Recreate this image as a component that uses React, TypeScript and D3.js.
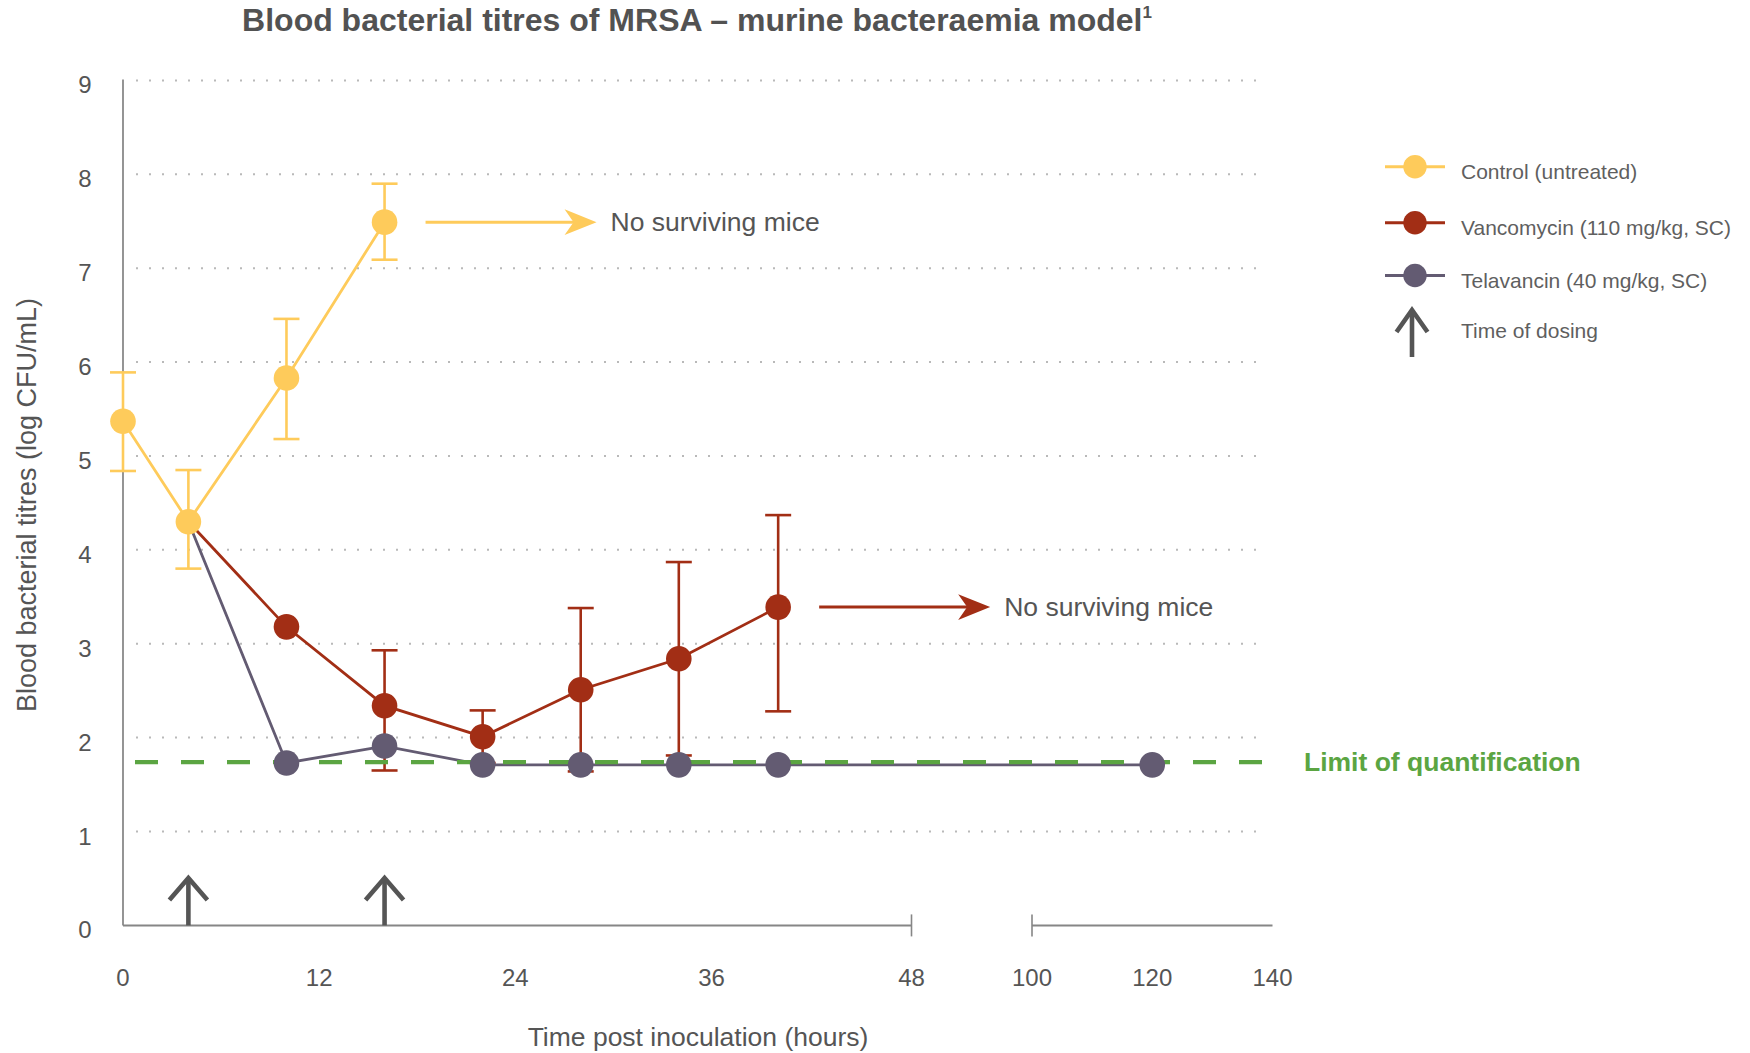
import React from "react";
import * as d3 from "d3";

// ---- Data -------------------------------------------------------------
const controlTime = [0, 4, 10, 16];
const controlMean = [5.37, 4.3, 5.83, 7.49];
const controlLow = [4.84, 3.8, 5.18, 7.09];
const controlHigh = [5.89, 4.85, 6.46, 7.9];

const vancoTime = [4, 10, 16, 22, 28, 34, 40];
const vancoMean = [4.3, 3.18, 2.34, 2.01, 2.51, 2.84, 3.39];
const vancoLow = [null, null, 1.65, 1.73, 1.64, 1.81, 2.28];
const vancoHigh = [null, null, 2.93, 2.29, 3.38, 3.87, 4.37];

const telaTime = [4, 10, 16, 22, 28, 34, 40, 120];
const telaMean = [4.3, 1.73, 1.91, 1.71, 1.71, 1.71, 1.71, 1.71];

const limitOfQuantification = 1.74;
const dosingTimes = [4, 16];

const xTicks = [0, 12, 24, 36, 48, 100, 120, 140];
const yTicks = [0, 1, 2, 3, 4, 5, 6, 7, 8, 9];
const gridValues = [1, 2, 3, 4, 5, 6, 7, 8, 9];
const axisSegments: [number, number][] = [
  [0, 48],
  [100, 140],
];

const seriesNames = [
  "Control (untreated)",
  "Vancomycin (110 mg/kg, SC)",
  "Telavancin (40 mg/kg, SC)",
];
const dosingLabel = "Time of dosing";
const noSurvivorsLabel = "No surviving mice";
const loqLabel = "Limit of quantification";

// ---- Style -----------------------------------------------------------
const C_CONTROL = "#FECB5B";
const C_VANCO = "#A22E15";
const C_TELA = "#635B72";
const C_LOQ = "#5BA542";
const C_TEXT = "#555555";
const C_LEGEND = "#5f5f5f";
const C_AXIS = "#7a7a7a";
const FONT = "'Liberation Sans', Arial, Helvetica, sans-serif";

const W = 1750;
const H = 1053;
const R = 12.8;

// Broken time axis: 0–48 h then 100–140 h
const x = d3
  .scaleLinear()
  .domain([0, 36, 48, 100, 140])
  .range([123, 711.5, 911.5, 1032, 1272.5]);
const y = d3.scaleLinear().domain([0, 9]).range([925.4, 80.4]);

type Pt = [number, number];
const zip = (t: number[], v: number[]): Pt[] => t.map((d, i) => [d, v[i]]);
const line = d3
  .line<Pt>()
  .x((d) => x(d[0]))
  .y((d) => y(d[1]));

function ErrorBars({
  t,
  lo,
  hi,
  color,
}: {
  t: number[];
  lo: (number | null)[];
  hi: (number | null)[];
  color: string;
}) {
  const cap = 13;
  return (
    <g stroke={color} strokeWidth={2.6} fill="none">
      {t.map((tt, i) => {
        const l = lo[i];
        const h = hi[i];
        if (l == null || h == null) return null;
        const cx = x(tt);
        return (
          <g key={i}>
            <line x1={cx} x2={cx} y1={y(l)} y2={y(h)} />
            <line x1={cx - cap} x2={cx + cap} y1={y(h)} y2={y(h)} />
            <line x1={cx - cap} x2={cx + cap} y1={y(l)} y2={y(l)} />
          </g>
        );
      })}
    </g>
  );
}

function Markers({
  pts,
  color,
  skipFirst,
}: {
  pts: Pt[];
  color: string;
  skipFirst?: boolean;
}) {
  return (
    <g fill={color}>
      {pts.map((p, i) =>
        skipFirst && i === 0 ? null : (
          <circle key={i} cx={x(p[0])} cy={y(p[1])} r={R} />
        )
      )}
    </g>
  );
}

function NotchedArrow({
  x1,
  x2,
  yy,
  color,
}: {
  x1: number;
  x2: number;
  yy: number;
  color: string;
}) {
  const len = 32;
  const half = 12.8;
  const notch = 9;
  const head = `M${x2},${yy} L${x2 - len},${yy - half} L${x2 - len + notch},${yy} L${x2 - len},${yy + half} Z`;
  return (
    <g>
      <line x1={x1} x2={x2 - len + notch + 1} y1={yy} y2={yy} stroke={color} strokeWidth={3} />
      <path d={head} fill={color} />
    </g>
  );
}

function DoseArrow({ cx, base, top, width }: { cx: number; base: number; top: number; width: number }) {
  return (
    <g stroke="#555555" strokeWidth={4.6} fill="none" strokeLinejoin="miter">
      <line x1={cx} x2={cx} y1={base} y2={top + 2} />
      <polyline points={`${cx - width},${top + 23} ${cx},${top + 1} ${cx + width},${top + 23}`} />
    </g>
  );
}

export default function App() {
  const control = zip(controlTime, controlMean);
  const vanco = zip(vancoTime, vancoMean);
  const tela = zip(telaTime, telaMean);

  const yLoq = y(limitOfQuantification);
  const ctrlLast = control[control.length - 1];
  const vancoLast = vanco[vanco.length - 1];
  const arrowGap = 41;
  const arrowLen = 171;

  const legendY = [166.7, 222.7, 275.5];
  const legendColors = [C_CONTROL, C_VANCO, C_TELA];

  return (
    <svg
      width={W}
      height={H}
      viewBox={`0 0 ${W} ${H}`}
      style={{ position: "absolute", left: 0, top: 0, background: "#fff" }}
      fontFamily={FONT}
    >
      <rect width={W} height={H} fill="#ffffff" />

      {/* Title */}
      <text x={697} y={31} textAnchor="middle" fontSize={32} fontWeight="bold" fill="#525252">
        Blood bacterial titres of MRSA – murine bacteraemia model
        <tspan fontSize={17} dy={-13}>1</tspan>
      </text>

      {/* Horizontal dotted grid */}
      <g stroke="#b9b9b9" strokeWidth={2} strokeDasharray="2 11">
        {gridValues.map((v) => (
          <line key={v} x1={136} x2={1266} y1={y(v)} y2={y(v)} />
        ))}
      </g>

      {/* Y axis */}
      <line x1={x(0)} x2={x(0)} y1={y(0)} y2={y(9) - 1} stroke={C_AXIS} strokeWidth={1.6} />
      <g fontSize={24} fill={C_TEXT} textAnchor="middle">
        {yTicks.map((v) => (
          <text key={v} x={85} y={y(v) + 13}>
            {v}
          </text>
        ))}
      </g>

      {/* Broken X axis */}
      <g stroke="#868686" strokeWidth={2}>
        {axisSegments.map(([a, b], i) => (
          <line key={i} x1={x(a)} x2={x(b)} y1={y(0)} y2={y(0)} />
        ))}
        <line x1={x(48)} x2={x(48)} y1={y(0) - 11} y2={y(0) + 11} strokeWidth={1.6} />
        <line x1={x(100)} x2={x(100)} y1={y(0) - 11} y2={y(0) + 11} strokeWidth={1.6} />
      </g>
      <g fontSize={24} fill={C_TEXT} textAnchor="middle">
        {xTicks.map((v) => (
          <text key={v} x={x(v)} y={986}>
            {v}
          </text>
        ))}
      </g>

      {/* Axis titles */}
      <text x={698} y={1046} textAnchor="middle" fontSize={26.5} fill={C_TEXT}>
        Time post inoculation (hours)
      </text>
      <text
        transform={`translate(36, 505) rotate(-90)`}
        textAnchor="middle"
        fontSize={27}
        fill={C_TEXT}
      >
        Blood bacterial titres (log CFU/mL)
      </text>

      {/* Dosing arrows */}
      {dosingTimes.map((t) => (
        <DoseArrow key={t} cx={x(t)} base={y(0)} top={877} width={19} />
      ))}

      {/* Vancomycin */}
      <path d={line(vanco) ?? ""} fill="none" stroke={C_VANCO} strokeWidth={2.8} />
      <ErrorBars t={vancoTime} lo={vancoLow} hi={vancoHigh} color={C_VANCO} />

      {/* Telavancin */}
      <path d={line(tela) ?? ""} fill="none" stroke={C_TELA} strokeWidth={2.8} />

      {/* Limit of quantification */}
      <line
        x1={x(0)}
        x2={x(140)}
        y1={yLoq}
        y2={yLoq}
        stroke={C_LOQ}
        strokeWidth={4.2}
        strokeDasharray="23 23"
        strokeDashoffset={-12}
      />
      <text x={1304} y={yLoq + 9} fontSize={26.5} fontWeight="bold" fill={C_LOQ}>
        {loqLabel}
      </text>

      <Markers pts={vanco} color={C_VANCO} skipFirst />
      <Markers pts={tela} color={C_TELA} skipFirst />

      {/* Control */}
      <path d={line(control) ?? ""} fill="none" stroke={C_CONTROL} strokeWidth={2.8} />
      <ErrorBars t={controlTime} lo={controlLow} hi={controlHigh} color={C_CONTROL} />
      <Markers pts={control} color={C_CONTROL} />

      {/* No surviving mice annotations */}
      <NotchedArrow
        x1={x(ctrlLast[0]) + arrowGap}
        x2={x(ctrlLast[0]) + arrowGap + arrowLen}
        yy={y(ctrlLast[1])}
        color={C_CONTROL}
      />
      <text x={x(ctrlLast[0]) + arrowGap + arrowLen + 14} y={y(ctrlLast[1]) + 9} fontSize={26.5} fill={C_TEXT}>
        {noSurvivorsLabel}
      </text>
      <NotchedArrow
        x1={x(vancoLast[0]) + arrowGap}
        x2={x(vancoLast[0]) + arrowGap + arrowLen}
        yy={y(vancoLast[1])}
        color={C_VANCO}
      />
      <text x={x(vancoLast[0]) + arrowGap + arrowLen + 14} y={y(vancoLast[1]) + 9} fontSize={26.5} fill={C_TEXT}>
        {noSurvivorsLabel}
      </text>

      {/* Legend */}
      <g>
        {seriesNames.map((name, i) => (
          <g key={name}>
            <line x1={1385} x2={1445} y1={legendY[i]} y2={legendY[i]} stroke={legendColors[i]} strokeWidth={3} />
            <circle cx={1415} cy={legendY[i]} r={11.7} fill={legendColors[i]} />
            <text x={1461} y={legendY[i] + 12} fontSize={21} fill={C_LEGEND}>
              {name}
            </text>
          </g>
        ))}
        <DoseArrow cx={1412} base={357} top={309} width={15.5} />
        <text x={1461} y={338} fontSize={21} fill={C_LEGEND}>
          {dosingLabel}
        </text>
      </g>
    </svg>
  );
}
